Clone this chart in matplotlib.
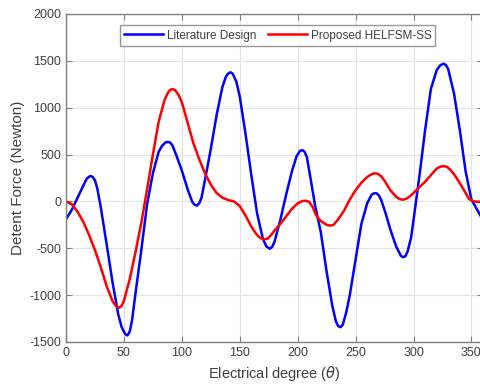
'''
Detent force vs electrical degree
'''

import matplotlib
matplotlib.use('Agg')
import matplotlib.pyplot as plt

plt.rcParams['font.family'] = ['Liberation Sans', 'DejaVu Sans']
plt.rcParams['mathtext.fontset'] = 'dejavusans'
plt.rcParams['axes.unicode_minus'] = False

# Literature design (blue), (degree, force)
lit_pts = [
    (0, -190), (5, -90), (10, 40), (15, 170), (18, 245), (21, 272), (23, 262),
    (25, 225), (27, 140), (30, -60), (35, -450), (40, -850), (45, -1200),
    (48, -1340), (51, -1415), (53, -1430), (55, -1390), (57, -1270), (60, -980),
    (65, -520), (70, -30), (75, 300), (80, 530), (83, 595), (86, 630), (88, 635),
    (90, 628), (92, 595), (95, 500), (100, 330), (105, 130), (109, -5),
    (111, -35), (113, -45), (115, -20), (117, 40), (120, 230), (125, 560),
    (130, 920), (135, 1220), (138, 1330), (140, 1365), (142, 1378), (144, 1362),
    (147, 1280), (150, 1120), (155, 720), (160, 280), (165, -130), (170, -400),
    (173, -480), (176, -505), (178, -485), (180, -430), (185, -200), (190, 70),
    (195, 320), (199, 480), (202, 540), (204, 547), (206, 530), (208, 470),
    (212, 180), (215, -40), (220, -330), (225, -750), (230, -1120),
    (233, -1280), (235, -1330), (237, -1342), (239, -1315), (242, -1180),
    (245, -1000), (250, -620), (255, -240), (260, -20), (264, 75), (266, 86),
    (268, 88), (270, 65), (272, 20), (276, -130), (280, -300), (285, -480),
    (289, -578), (291, -595), (293, -585), (295, -530), (298, -380), (300, -200),
    (305, 260), (310, 760), (315, 1200), (320, 1400), (323, 1452), (326, 1470),
    (328, 1455), (330, 1410), (335, 1150), (340, 760), (345, 320), (350, 20),
    (355, -90), (360, -200)]

# Proposed HELFSM-SS (red)
prop_pts = [
    (0, 0), (5, -30), (10, -110), (15, -220), (20, -360), (25, -520),
    (30, -700), (35, -900), (40, -1060), (43, -1115), (46, -1135), (48, -1115),
    (50, -1060), (55, -830), (60, -540), (65, -230), (70, 130), (75, 500),
    (80, 850), (85, 1080), (88, 1160), (90, 1190), (92, 1198), (94, 1190),
    (97, 1140), (100, 1060), (105, 840), (110, 620), (115, 450), (120, 300),
    (125, 180), (130, 90), (135, 40), (140, 15), (145, 0), (150, -50),
    (155, -150), (160, -270), (165, -360), (168, -392), (171, -405),
    (174, -398), (177, -360), (180, -310), (185, -240), (190, -160),
    (195, -80), (200, -20), (204, 4), (207, 7), (210, -5), (213, -60),
    (216, -150), (220, -210), (225, -250), (228, -258), (231, -250),
    (235, -190), (240, -100), (245, 20), (250, 120), (255, 200), (260, 260),
    (263, 285), (266, 300), (269, 295), (272, 270), (275, 220), (280, 120),
    (285, 50), (288, 25), (291, 18), (294, 30), (297, 55), (300, 90),
    (305, 150), (310, 210), (315, 280), (320, 350), (323, 370), (326, 378),
    (329, 368), (332, 335), (335, 290), (340, 195), (345, 90), (348, 25),
    (352, 0), (355, -3), (360, -5)]

lit_deg = [p[0] for p in lit_pts]
lit_force = [p[1] for p in lit_pts]
prop_deg = [p[0] for p in prop_pts]
prop_force = [p[1] for p in prop_pts]

xticks = [0, 50, 100, 150, 200, 250, 300, 350]
yticks = [-1500, -1000, -500, 0, 500, 1000, 1500, 2000]

txt = '#404040'
axc = '#808080'

fig = plt.figure(figsize=(4.8, 3.87), dpi=100)
# right edge of the axes runs past the figure, as in the original
ax = fig.add_axes([66 / 480, 45 / 387, 417 / 480, 328 / 387])

ax.plot(lit_deg, lit_force, color='#0000ff', lw=1.8, label='Literature Design')
ax.plot(prop_deg, prop_force, color='#ff0000', lw=1.8, label='Proposed HELFSM-SS')

ax.set_xlim(0, 360)
ax.set_ylim(-1500, 2000)
ax.set_xticks(xticks)
ax.set_yticks(yticks)
ax.grid(True, color='#e3e3e3', lw=0.8)
ax.set_axisbelow(True)

ax.tick_params(direction='in', length=4, width=0.8, colors=axc,
               labelcolor=txt, labelsize=9, top=True, right=True)
for s in ax.spines.values():
    s.set_color(axc)
    s.set_linewidth(1.0)

ax.set_xlabel(r'Electrical degree ($\theta$)', fontsize=10.5, color=txt,
              labelpad=4)
ax.set_ylabel('Detent Force (Newton)', fontsize=11, color=txt, labelpad=3)

leg = ax.legend(loc='upper left', bbox_to_anchor=(0.13, 0.965), ncol=2,
                fontsize=8.5, frameon=True, fancybox=False, handlelength=3.3,
                handletextpad=0.3, columnspacing=1.0, borderpad=0.35,
                borderaxespad=0)
leg.get_frame().set_edgecolor('#7f7f7f')
leg.get_frame().set_linewidth(1.0)
for t in leg.get_texts():
    t.set_color(txt)

fig.savefig('out.png', dpi=100)
